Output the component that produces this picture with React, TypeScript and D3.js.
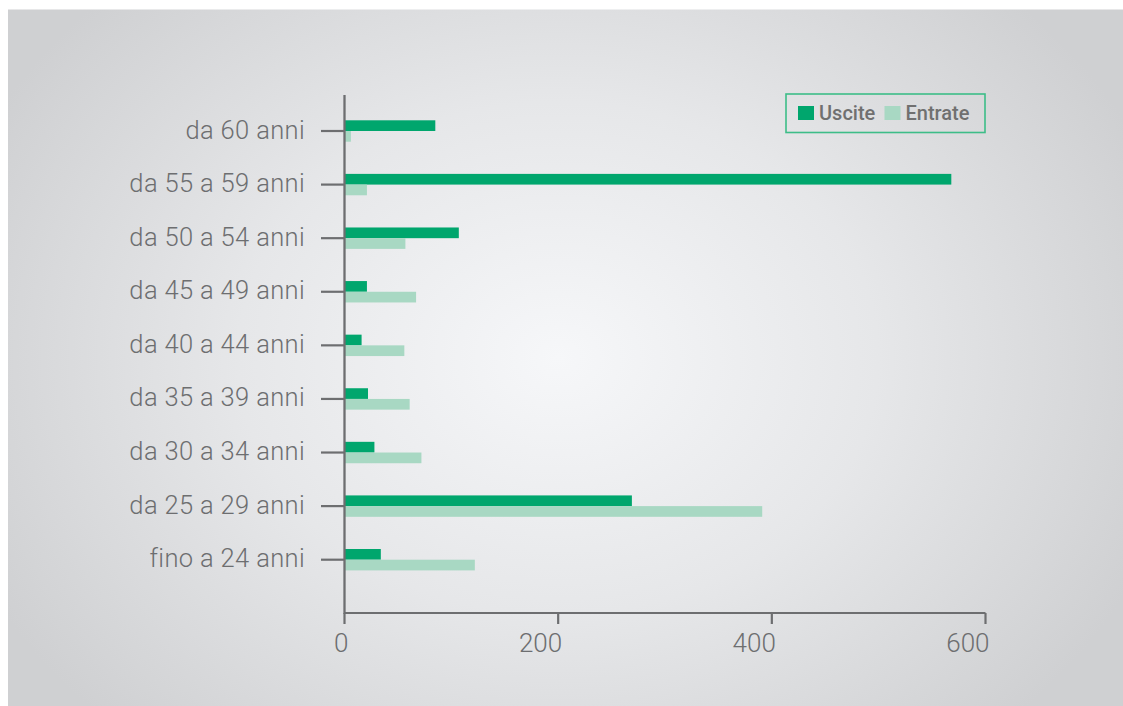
import React from "react";
import * as d3 from "d3";

const categories = [
  "da 60 anni",
  "da 55 a 59 anni",
  "da 50 a 54 anni",
  "da 45 a 49 anni",
  "da 40 a 44 anni",
  "da 35 a 39 anni",
  "da 30 a 34 anni",
  "da 25 a 29 anni",
  "fino a 24 anni",
];
const uscite = [85, 568, 107, 21, 16, 22, 28, 269, 34];
const entrate = [6, 21, 57, 67, 56, 61, 72, 391, 122];
const xTicks = [0, 200, 400, 600];
const seriesNames = ["Uscite", "Entrate"];

const DARK = "#00a66d";
const LIGHT = "#a8d8c3";
const AXIS = "#6d6e70";
const TEXT = "#6d6e70";

export default function App() {
  const W = 1123;
  const H = 706;
  const x = d3.scaleLinear().domain([0, 600]).range([344.5, 985.5]);
  const y = d3.scalePoint<string>().domain(categories).range([131, 559.7]);
  const barH = 10.7;
  const axisTop = 95;
  const axisBottom = 613;
  const font = "Roboto, 'Open Sans', sans-serif";

  return (
    <svg width={W} height={H} style={{ position: "absolute", left: 0, top: 0, display: "block" }}>
      <defs>
        <radialGradient id="bg" gradientUnits="userSpaceOnUse" cx={558} cy={358} r={640}
          gradientTransform="translate(558 358) scale(1 0.8) translate(-558 -358)">
          <stop offset="0" stopColor="#f6f7f9" />
          <stop offset="0.5" stopColor="#e6e7e9" />
          <stop offset="1" stopColor="#cfd0d2" />
        </radialGradient>
      </defs>
      <rect x={0} y={0} width={W} height={H} fill="#ffffff" />
      <rect x={8} y={9.5} width={W - 8} height={H - 9.5} fill="url(#bg)" />

      {categories.map((c, i) => {
        const cy = y(c)!;
        return (
          <g key={c}>
            <rect x={x(0)} y={cy - barH} width={x(uscite[i]) - x(0)} height={barH} fill={DARK} />
            <rect x={x(0)} y={cy} width={x(entrate[i]) - x(0)} height={barH} fill={LIGHT} />
            <line x1={321} x2={x(0)} y1={cy} y2={cy} stroke={AXIS} strokeWidth={2.2} />
            <text x={305} y={cy + 7.5} textAnchor="end" fontFamily={font}
              fontWeight={300} fontSize={25.5} letterSpacing={0.35} fill={TEXT}>{c}</text>
          </g>
        );
      })}

      <line x1={x(0)} x2={x(0)} y1={axisTop} y2={axisBottom + 1} stroke={AXIS} strokeWidth={2.3} />
      <line x1={x(0)} x2={x(600)} y1={axisBottom} y2={axisBottom} stroke={AXIS} strokeWidth={2.2} />
      {xTicks.map((t) => (
        <g key={t}>
          <line x1={x(t)} x2={x(t)} y1={axisBottom} y2={624} stroke={AXIS} strokeWidth={2.2} />
          <text x={x(t) + 4} y={652} textAnchor="end" fontFamily={font} fontWeight={300}
            fontSize={26} fill={TEXT}>{t}</text>
        </g>
      ))}

      <g>
        <rect x={786} y={94} width={199} height={38.5} fill="none" stroke="#3dbd88" strokeWidth={1.6} />
        <rect x={798} y={106} width={16} height={14} fill={DARK} />
        <text x={819} y={119.5} fontFamily={font} fontWeight={500} fontSize={20} fill="#707070">{seriesNames[0]}</text>
        <rect x={884.5} y={106} width={16} height={14} fill={LIGHT} />
        <text x={905.5} y={119.5} fontFamily={font} fontWeight={500} fontSize={20} fill="#707070">{seriesNames[1]}</text>
      </g>
    </svg>
  );
}
